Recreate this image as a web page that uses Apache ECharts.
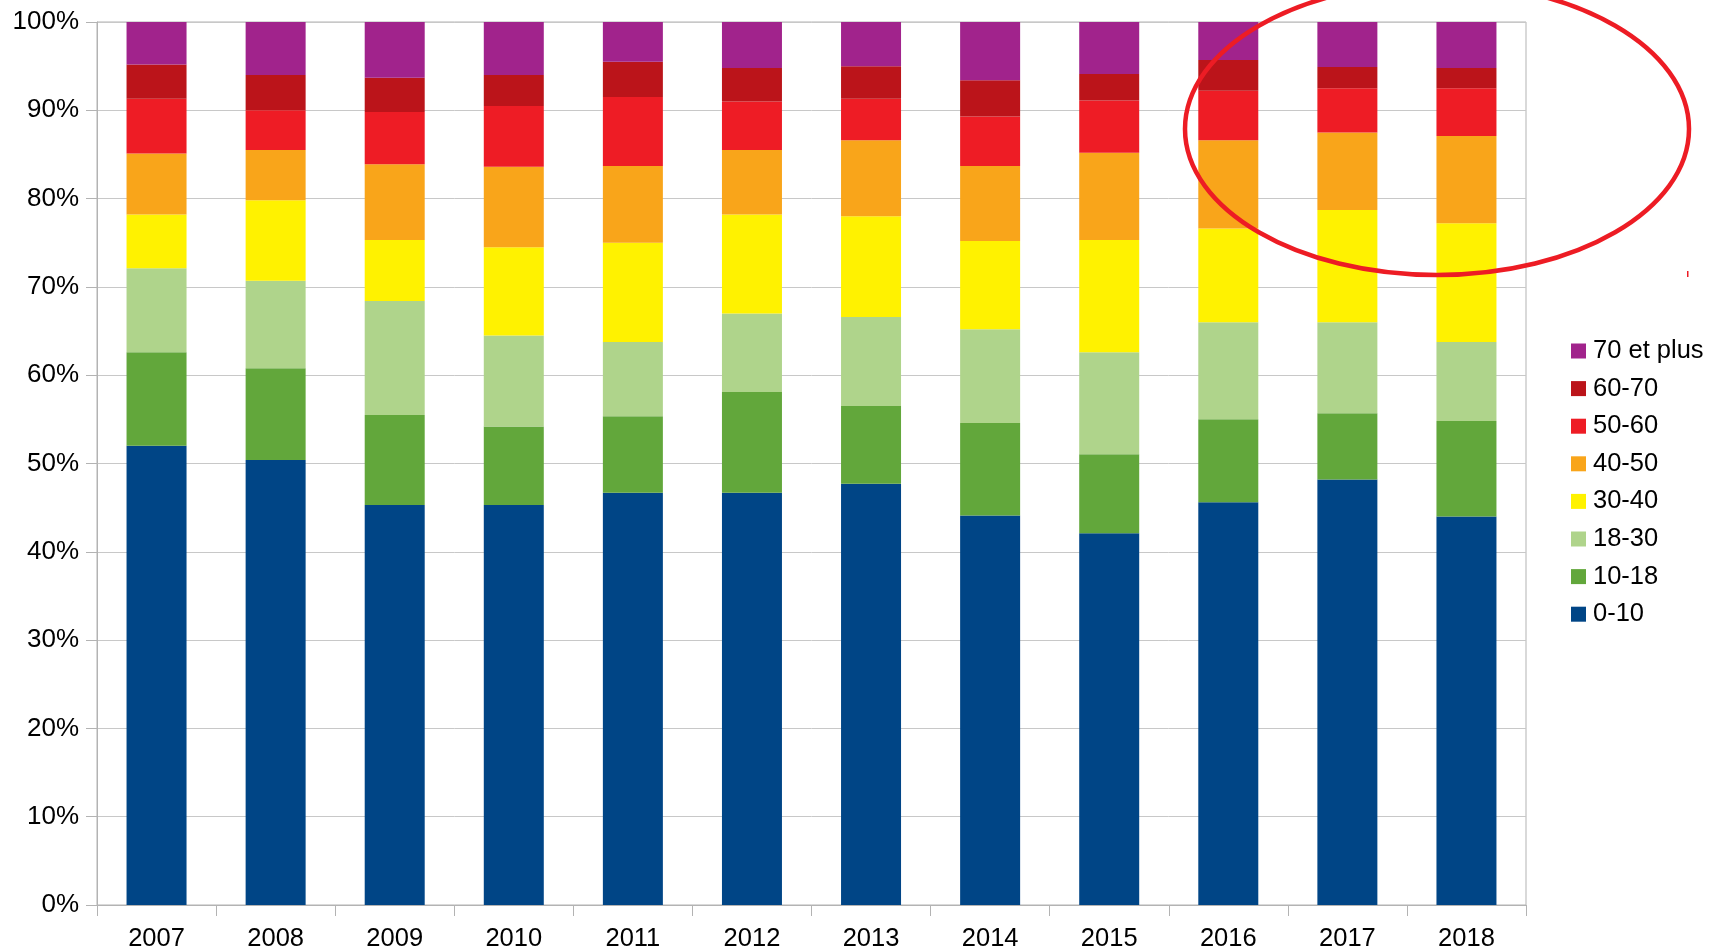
<!DOCTYPE html>
<html>
<head>
<meta charset="utf-8">
<script src="https://cdn.jsdelivr.net/npm/echarts@6/dist/echarts.min.js"></script>
<style>html,body{margin:0;padding:0;background:#fff}#c{width:1710px;height:951px}</style>
</head>
<body>
<div id="c"></div>
<script>
const years = ['2007','2008','2009','2010','2011','2012','2013','2014','2015','2016','2017','2018'];
const seriesNames = ['0-10','10-18','18-30','30-40','40-50','50-60','60-70','70 et plus'];
const colors = ['#004586','#62a73b','#afd48b','#fff200','#f9a51a','#ee1c25','#bb141a','#a1238c'];
const s0_10   = [52.0, 50.4, 45.3, 45.3, 46.7, 46.7, 47.7, 44.1, 42.1, 45.6, 48.2, 44.0];
const s10_18  = [10.6, 10.4, 10.2,  8.9,  8.65, 11.4, 8.8, 10.5, 8.95, 9.4,  7.5, 10.8];
const s18_30  = [ 9.5,  9.9, 12.9, 10.3,  8.4,  8.9, 10.1, 10.6, 11.55, 11.0, 10.3, 8.95];
const s30_40  = [ 6.1,  9.1,  6.9, 10.0, 11.25, 11.2, 11.4, 10.0, 12.7, 10.6, 12.7, 13.45];
const s40_50  = [ 6.9,  5.7,  8.6,  9.1,  8.7,  7.3,  8.6,  8.5,  9.9, 10.0,  8.8,  9.9];
const s50_60  = [ 6.2,  4.5,  5.9,  6.9,  7.8,  5.5,  4.7,  5.6,  5.9,  5.6,  5.0,  5.4];
const s60_70  = [ 3.9,  4.0,  3.9,  3.5,  4.0,  3.8,  3.7,  4.1,  3.0,  3.5,  2.4,  2.3];
const s70plus = [ 4.8,  6.0,  6.3,  6.0,  4.5,  5.2,  5.0,  6.6,  5.9,  4.3,  5.1,  5.2];
const yTicks = [0,10,20,30,40,50,60,70,80,90,100];

const allData = [s0_10, s10_18, s18_30, s30_40, s40_50, s50_60, s60_70, s70plus];
const font = 'Liberation Sans';

const chart = echarts.init(document.getElementById('c'), null, {renderer:'canvas'});
chart.setOption({
  backgroundColor: '#ffffff',
  animation: false,
  grid: {left: 97, right: 184, top: 22, bottom: 46, outerBoundsMode: 'none', containLabel: false,
         show: true, borderColor: '#b3b3b3', borderWidth: 1, backgroundColor: 'transparent'},
  legend: {
    orient: 'vertical', left: 1566, top: 333,
    itemWidth: 15, itemHeight: 15, itemGap: 11.6,
    icon: 'rect',
    data: seriesNames.slice().reverse(),
    textStyle: {fontFamily: font, fontSize: 25.5, color: '#000', padding: [0,0,0,2], lineHeight: 24}
  },
  xAxis: {
    type: 'category', data: years,
    axisLine: {lineStyle: {color: '#b3b3b3', width: 1}},
    axisTick: {show: true, length: 11, lineStyle: {color: '#b3b3b3'}},
    axisLabel: {fontFamily: font, fontSize: 25.5, color: '#000', margin: 21}
  },
  yAxis: {
    type: 'value', min: yTicks[0], max: yTicks[yTicks.length-1], interval: 10,
    axisLine: {show: true, lineStyle: {color: '#b3b3b3', width: 1}},
    axisTick: {show: true, length: 11, lineStyle: {color: '#b3b3b3'}},
    splitLine: {lineStyle: {color: '#c8c8c8', width: 1}},
    axisLabel: {fontFamily: font, fontSize: 26, color: '#000', margin: 18, formatter: '{value}%'}
  },
  series: seriesNames.map((n, i) => ({
    name: n, type: 'bar', stack: 'total', data: allData[i],
    barWidth: 60,
    itemStyle: {color: colors[i]}
  })),
  graphic: [
    {type: 'ellipse', z: 100, shape: {cx: 1437, cy: 129, rx: 252, ry: 146},
     style: {fill: 'none', stroke: '#ed1c24', lineWidth: 4.5}},
    {type: 'rect', z: 100, shape: {x: 1687, y: 271, width: 1.5, height: 6},
     style: {fill: '#ed1c24'}}
  ]
});
</script>
</body>
</html>
